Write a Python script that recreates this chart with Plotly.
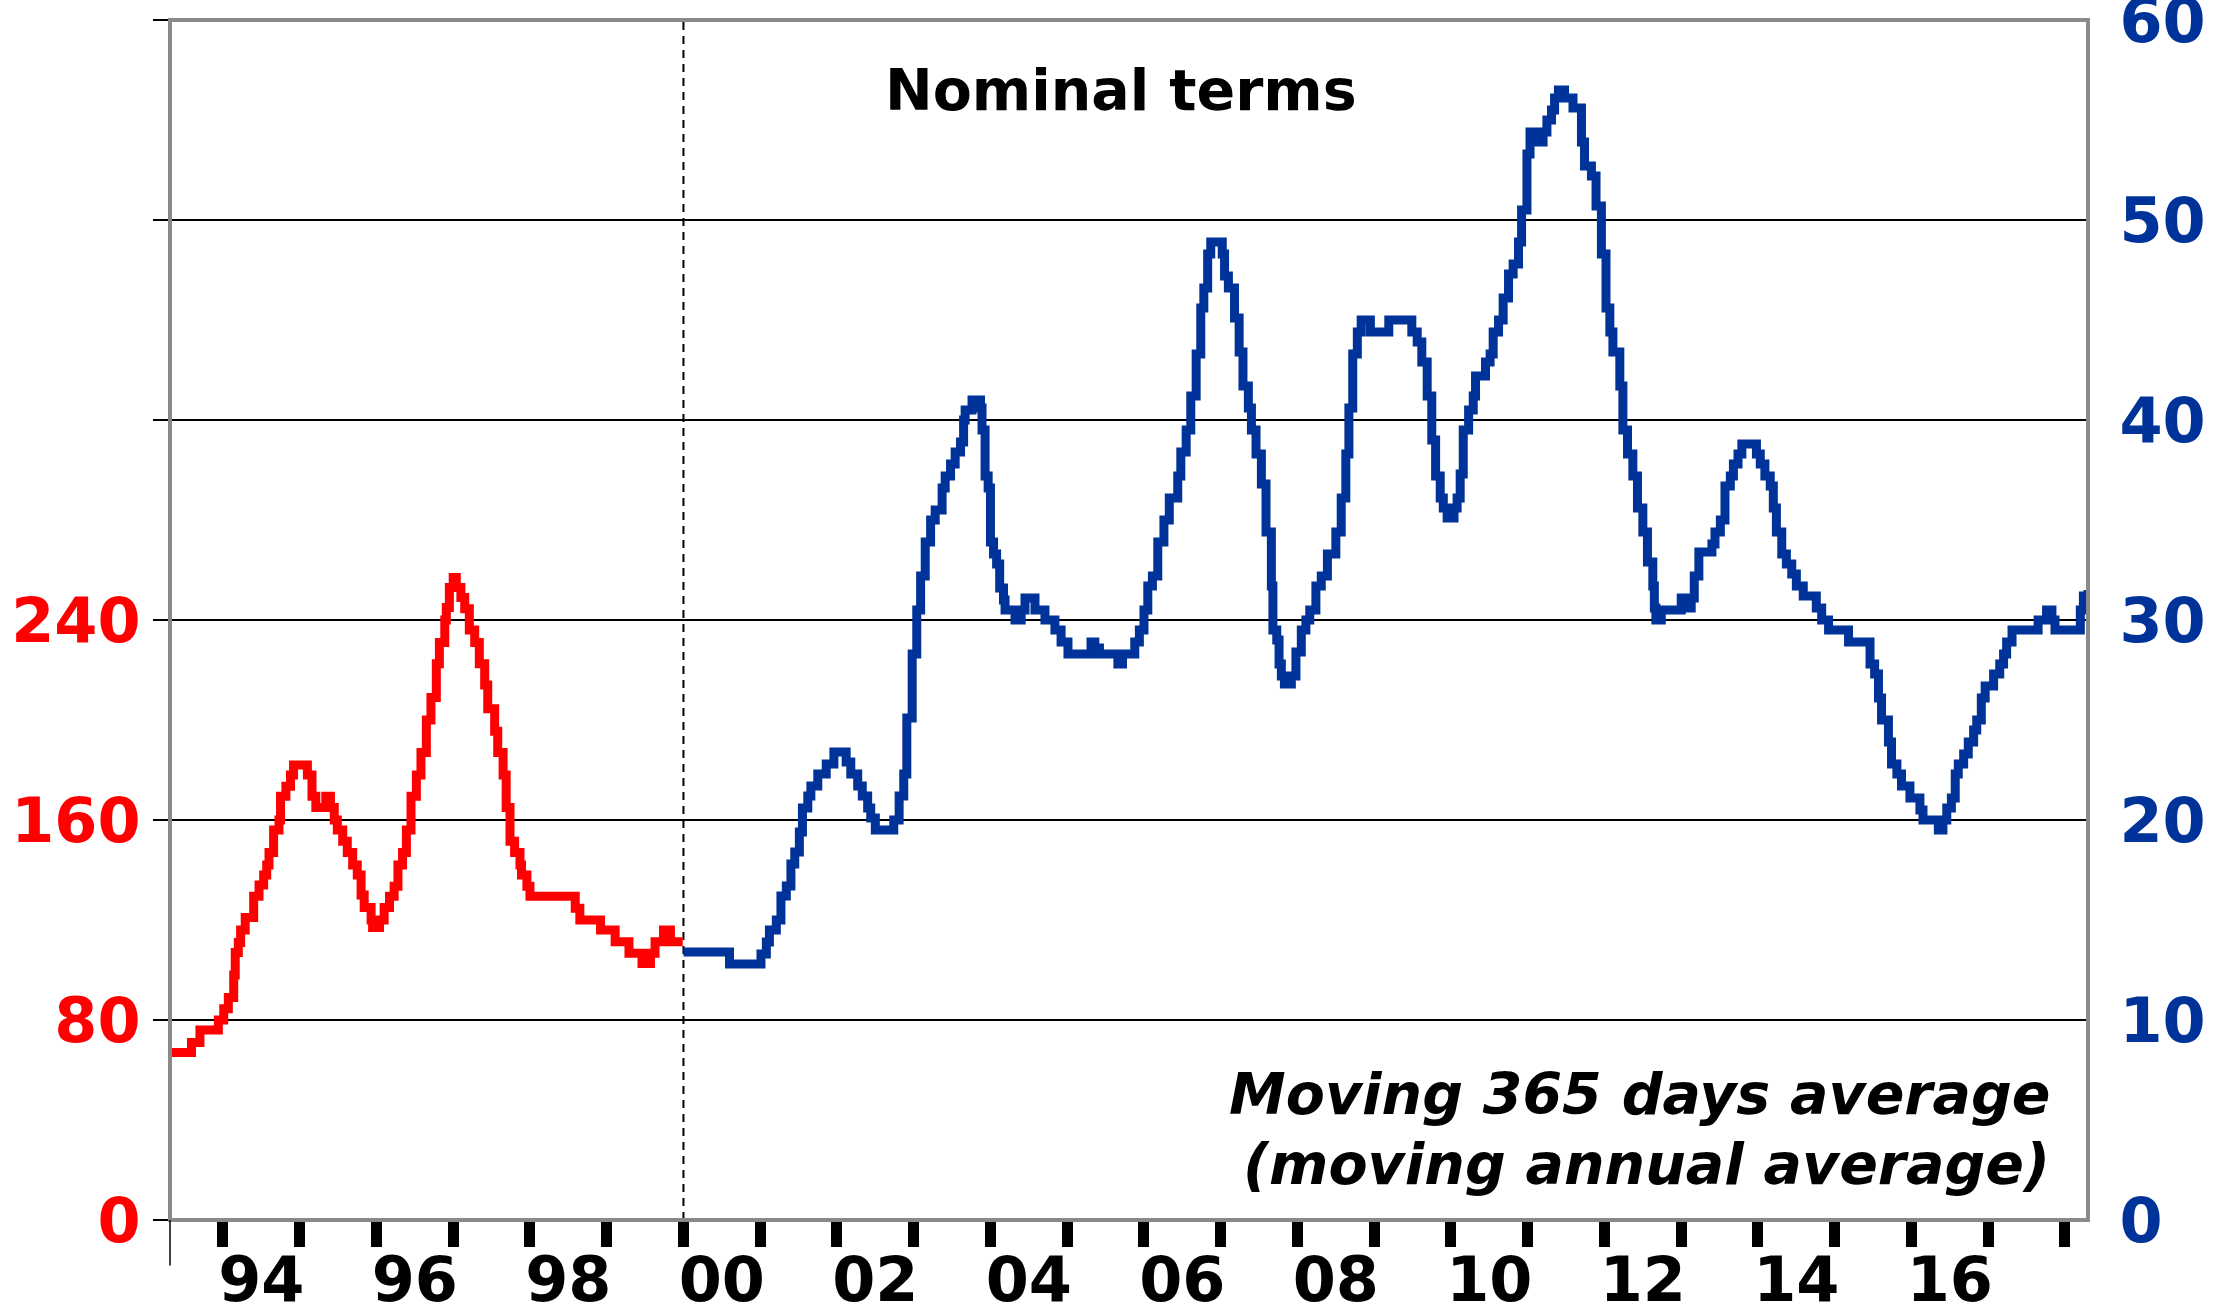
import plotly.graph_objects as go

# ---------------- data ----------------
# Red series (left axis), moving annual average, 1993-1999
red_years = [1993.31, 1993.59, 1993.70, 1993.94, 1994.01, 1994.07, 1994.14, 1994.16, 1994.20, 1994.23,
             1994.29, 1994.40, 1994.47, 1994.53, 1994.57, 1994.60, 1994.66, 1994.73, 1994.75, 1994.82,
             1994.88, 1994.92, 1995.10, 1995.16, 1995.21, 1995.34, 1995.40, 1995.45, 1995.49, 1995.56,
             1995.62, 1995.69, 1995.75, 1995.80, 1995.84, 1995.93, 1995.95, 1996.04, 1996.10, 1996.17,
             1996.23, 1996.28, 1996.34, 1996.39, 1996.45, 1996.52, 1996.58, 1996.65, 1996.71, 1996.78,
             1996.82, 1996.89, 1996.91, 1996.95, 1997.00, 1997.04, 1997.10, 1997.15, 1997.21, 1997.28,
             1997.34, 1997.41, 1997.45, 1997.54, 1997.58, 1997.65, 1997.69, 1997.74, 1997.80, 1997.87,
             1997.89, 1997.96, 1998.00, 1998.59, 1998.65, 1998.92, 1999.11, 1999.29, 1999.46, 1999.57,
             1999.63, 1999.74, 1999.83, 1999.99]
red_vals = [67, 71, 76, 80, 84.5, 89, 98, 107, 111, 116,
            121, 129.5, 134, 138, 142, 147, 156, 160, 169.5, 173.5,
            178, 182, 178, 169.5, 165, 169.5, 165, 160, 156, 151.5,
            147, 142, 138, 130, 125, 120, 117, 120, 125, 129.5,
            133.5, 142, 147, 156, 169.5, 178, 187, 200, 209, 222.5,
            231, 240, 245, 253, 257, 253, 249, 244.5, 236, 231,
            222.5, 214, 204.5, 195.5, 187, 178, 165, 151.5, 147, 142,
            138, 133.5, 129.5, 124.7, 120, 116, 111.3, 106.7, 102.6, 106.7,
            111.3, 116, 111.3, 111.3]

# Blue series (right axis), moving annual average, 2000-2018
blue_years = [2000.00, 2000.60, 2001.01, 2001.08, 2001.12, 2001.21, 2001.27, 2001.34, 2001.40, 2001.45,
              2001.51, 2001.55, 2001.62, 2001.66, 2001.75, 2001.86, 2001.96, 2002.12, 2002.18, 2002.27,
              2002.33, 2002.40, 2002.44, 2002.50, 2002.74, 2002.81, 2002.87, 2002.91, 2002.98, 2003.04,
              2003.09, 2003.15, 2003.22, 2003.28, 2003.37, 2003.41, 2003.48, 2003.54, 2003.61, 2003.65,
              2003.67, 2003.76, 2003.87, 2003.89, 2003.93, 2003.97, 2004.00, 2004.04, 2004.08, 2004.12,
              2004.17, 2004.19, 2004.32, 2004.40, 2004.45, 2004.58, 2004.71, 2004.84, 2004.92, 2005.01,
              2005.31, 2005.36, 2005.42, 2005.66, 2005.72, 2005.88, 2005.94, 2006.00, 2006.05, 2006.11,
              2006.18, 2006.26, 2006.33, 2006.44, 2006.48, 2006.55, 2006.61, 2006.68, 2006.74, 2006.78,
              2006.83, 2006.87, 2007.02, 2007.05, 2007.10, 2007.18, 2007.24, 2007.29, 2007.36, 2007.40,
              2007.46, 2007.53, 2007.59, 2007.66, 2007.68, 2007.73, 2007.76, 2007.79, 2007.83, 2007.92,
              2007.98, 2008.05, 2008.11, 2008.16, 2008.24, 2008.31, 2008.39, 2008.50, 2008.57, 2008.63,
              2008.67, 2008.72, 2008.78, 2008.83, 2008.95, 2009.19, 2009.49, 2009.56, 2009.62, 2009.69,
              2009.75, 2009.80, 2009.86, 2009.90, 2009.95, 2010.04, 2010.08, 2010.12, 2010.16, 2010.23,
              2010.29, 2010.32, 2010.45, 2010.51, 2010.55, 2010.62, 2010.68, 2010.75, 2010.81, 2010.88,
              2010.92, 2010.99, 2011.03, 2011.09, 2011.20, 2011.25, 2011.31, 2011.35, 2011.40, 2011.48,
              2011.59, 2011.70, 2011.74, 2011.83, 2011.89, 2011.96, 2012.02, 2012.07, 2012.11, 2012.20,
              2012.24, 2012.30, 2012.37, 2012.43, 2012.50, 2012.56, 2012.63, 2012.65, 2012.67, 2012.74,
              2013.00, 2013.10, 2013.13, 2013.17, 2013.23, 2013.40, 2013.44, 2013.51, 2013.57, 2013.64,
              2013.68, 2013.74, 2013.79, 2013.98, 2014.03, 2014.09, 2014.16, 2014.20, 2014.24, 2014.31,
              2014.37, 2014.44, 2014.50, 2014.59, 2014.76, 2014.83, 2014.92, 2015.18, 2015.46, 2015.52,
              2015.57, 2015.61, 2015.70, 2015.74, 2015.81, 2015.87, 2015.98, 2016.11, 2016.15, 2016.35,
              2016.41, 2016.46, 2016.52, 2016.57, 2016.61, 2016.68, 2016.74, 2016.81, 2016.85, 2016.91,
              2016.96, 2017.07, 2017.15, 2017.20, 2017.24, 2017.31, 2017.65, 2017.76, 2017.83, 2017.87,
              2018.20, 2018.24, 2018.30]
blue_vals = [13.4, 12.8, 13.3, 13.9, 14.5, 15.0, 16.2, 16.7, 17.8, 18.4,
             19.4, 20.6, 21.2, 21.7, 22.3, 22.8, 23.4, 22.9, 22.3, 21.7,
             21.2, 20.6, 20.1, 19.5, 20.0, 21.2, 22.3, 25.1, 28.3, 30.5,
             32.2, 33.9, 35.0, 35.5, 36.6, 37.2, 37.8, 38.4, 38.9, 40.0,
             40.5, 41.0, 40.6, 39.5, 37.2, 36.6, 33.9, 33.3, 32.8, 31.6,
             31.0, 30.5, 30.0, 30.5, 31.1, 30.5, 30.0, 29.5, 28.9, 28.3,
             28.9, 28.6, 28.3, 27.8, 28.3, 28.9, 29.5, 30.5, 31.7, 32.2,
             33.9, 35.0, 36.1, 37.2, 38.4, 39.5, 41.2, 43.3, 45.6, 46.6,
             48.3, 48.9, 48.3, 47.2, 46.6, 45.1, 43.4, 41.7, 40.6, 39.5,
             38.3, 36.8, 34.4, 31.7, 29.5, 29.0, 27.8, 27.2, 26.8, 27.2,
             28.4, 29.5, 30.0, 30.5, 31.7, 32.2, 33.3, 34.4, 36.1, 38.3,
             40.6, 43.3, 44.4, 45.0, 44.4, 45.0, 44.4, 43.9, 42.9, 41.2,
             39.0, 37.2, 36.1, 35.6, 35.1, 35.6, 36.1, 37.3, 39.5, 40.5,
             41.2, 42.2, 42.9, 43.3, 44.4, 45.0, 46.1, 47.3, 47.8, 48.9,
             50.5, 53.3, 54.4, 53.9, 54.4, 55.0, 55.5, 56.1, 56.5, 56.1,
             55.6, 53.9, 52.7, 52.2, 50.7, 48.3, 45.6, 44.4, 43.4, 41.7,
             39.5, 38.3, 37.2, 35.6, 34.4, 32.9, 31.7, 30.6, 30.0, 30.5,
             31.1, 30.6, 31.1, 32.2, 33.4, 33.8, 34.4, 35.0, 36.7, 37.2,
             37.8, 38.3, 38.8, 38.3, 37.8, 37.2, 36.7, 35.6, 34.4, 33.3,
             32.8, 32.3, 31.7, 31.2, 30.6, 30.0, 29.5, 28.9, 27.8, 27.3,
             26.1, 25.0, 23.9, 22.8, 22.3, 21.7, 21.1, 20.5, 20.0, 19.5,
             20.0, 20.6, 21.1, 22.3, 22.8, 23.3, 23.9, 24.5, 25.0, 26.1,
             26.7, 27.3, 27.8, 28.3, 28.9, 29.5, 30.0, 30.5, 30.0, 29.5,
             30.5, 31.2, 31.5]

# axes / ticks
x_range = [1993.31, 2018.30]
year_ticks = list(range(1994, 2019))
label_pos = [1994.5, 1996.5, 1998.5, 2000.5, 2002.5, 2004.5, 2006.5, 2008.5, 2010.5, 2012.5, 2014.5, 2016.5]
label_text = ["94", "96", "98", "00", "02", "04", "06", "08", "10", "12", "14", "16"]
left_tickvals = [0, 80, 160, 240, 320, 400, 480]
left_ticktext = ["0", "80", "160", "240", "", "", ""]
right_tickvals = [0, 10, 20, 30, 40, 50, 60]
break_year = 2000

RED = "#FF0000"
BLUE = "#003399"
FONT = "DejaVu Sans"
FRAME = "#8a8a8a"

fig = go.Figure()
fig.add_trace(go.Scatter(x=red_years, y=red_vals, mode="lines", yaxis="y",
                         line=dict(color=RED, width=9, shape="hv"), showlegend=False,
                         hoverinfo="skip"))
fig.add_trace(go.Scatter(x=blue_years, y=blue_vals, mode="lines", yaxis="y2",
                         line=dict(color=BLUE, width=9, shape="hv"), showlegend=False,
                         hoverinfo="skip"))

fig.update_layout(
    width=2239, height=1306,
    margin=dict(l=170, r=151, t=20, b=86, autoexpand=False),
    paper_bgcolor="white", plot_bgcolor="white",
    showlegend=False,
    xaxis=dict(
        range=x_range, tickmode="array", tickvals=label_pos, ticktext=label_text,
        ticks="outside", ticklen=6, tickcolor="rgba(0,0,0,0)",
        tickfont=dict(family=FONT, size=62, color="black", weight="bold"),
        showgrid=False, zeroline=False, showline=False, automargin=False,
        ticklabeloverflow="allow",
        minor=dict(tickmode="array", tickvals=year_ticks, ticks="outside",
                   ticklen=26, tickwidth=11, tickcolor="black", showgrid=False),
    ),
    yaxis=dict(
        range=[0, 480], tickmode="array", tickvals=left_tickvals, ticktext=left_ticktext,
        ticks="outside", ticklen=16, tickwidth=2, tickcolor="black",
        tickfont=dict(family=FONT, size=62, color=RED, weight="bold"),
        showgrid=False, zeroline=False, showline=False, automargin=False,
        ticklabeloverflow="allow",
    ),
    yaxis2=dict(
        range=[0, 60], overlaying="y", side="right", tickmode="array", tickvals=right_tickvals,
        ticks="outside", ticklen=18, tickcolor="rgba(0,0,0,0)",
        tickfont=dict(family=FONT, size=62, color=BLUE, weight="bold"),
        showgrid=True, gridcolor="black", gridwidth=1.5, zeroline=False, showline=False,
        automargin=False, ticklabeloverflow="allow",
    ),
)

# dashed separator at the series break
fig.add_shape(type="line", xref="x", yref="paper", x0=break_year, x1=break_year, y0=0, y1=1,
              line=dict(color="black", width=2, dash="8px,6px"), layer="between")
# plot frame
fig.add_shape(type="rect", xref="paper", yref="paper", x0=0, x1=1, y0=0, y1=1,
              line=dict(color=FRAME, width=4), layer="above")
# small left-axis extension below the frame
fig.add_shape(type="line", xref="paper", yref="paper", x0=0, x1=0, y0=0, y1=-0.038,
              line=dict(color="black", width=1.5), layer="above")

fig.add_annotation(text="Nominal terms", xref="paper", yref="paper", x=0.4958, y=0.9417,
                   xanchor="center", yanchor="middle", showarrow=False,
                   font=dict(family=FONT, size=57, color="black", weight="bold"))
fig.add_annotation(text="Moving 365 days average", xref="paper", yref="paper", x=0.9812, y=0.105,
                   xanchor="right", yanchor="middle", showarrow=False,
                   font=dict(family=FONT, size=57, color="black", weight="bold", style="italic"))
fig.add_annotation(text="(moving annual average)", xref="paper", yref="paper", x=0.9812, y=0.0467,
                   xanchor="right", yanchor="middle", showarrow=False,
                   font=dict(family=FONT, size=57, color="black", weight="bold", style="italic"))

fig.write_html(
    "out.html",
    config={"displayModeBar": False},
    post_script="document.body.style.margin='0px';document.body.style.overflow='hidden';",
)
